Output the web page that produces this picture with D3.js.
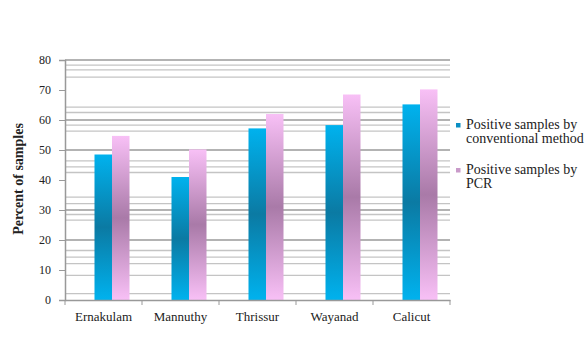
<!DOCTYPE html>
<html><head><meta charset="utf-8">
<script src="https://cdn.jsdelivr.net/npm/d3@7"></script>
<style>body{margin:0;background:#fff}svg{display:block}
svg text{font-family:"Liberation Serif","Times New Roman",Times,"DejaVu Serif",serif !important;}</style>
</head><body>
<svg id="c" width="585" height="337"></svg>
<script>
const categories = ["Ernakulam","Mannuthy","Thrissur","Wayanad","Calicut"];
const conventional = [48.5, 41, 57.2, 58.3, 65.2];
const pcr = [54.7, 50.2, 62, 68.5, 70.2];
const seriesNames = ["Positive samples by conventional method","Positive samples by PCR"];
const yTicks = [0,10,20,30,40,50,60,70,80];
const majorGrid = [80,60,50,30,20];
const minorGrid = [78.3,76.7,74.3,64.3,62.5,58.3,56.3,46.4,44.4,42.5,34.3,32.1,28.5,26.6,16.5,14.3,12.1,8.2,2.1];

const svg = d3.select("#c");
const L=65, R=450, T=60, B=300;
const x = d3.scaleBand().domain(categories).range([L,R]);
const y = d3.scaleLinear().domain([0,80]).range([B,T]);
const defs = svg.append("defs");
function grad(id, edge, mid){
  const g = defs.append("linearGradient").attr("id",id).attr("x1",0).attr("y1",0).attr("x2",0).attr("y2",1);
  g.append("stop").attr("offset","0%").attr("stop-color",edge);
  g.append("stop").attr("offset","50%").attr("stop-color",mid);
  g.append("stop").attr("offset","100%").attr("stop-color",edge);
}
grad("gb","#00b2ee","#0b7aa3");
grad("gp","#f8c0f6","#a97aa8");

// gridlines
svg.append("g").selectAll("line").data(minorGrid).join("line")
  .attr("x1",L).attr("x2",R).attr("y1",d=>y(d)).attr("y2",d=>y(d))
  .attr("stroke","#c4c4c4").attr("stroke-width",1.3);
svg.append("g").selectAll("line").data(majorGrid).join("line")
  .attr("x1",L).attr("x2",R).attr("y1",d=>y(d)).attr("y2",d=>y(d))
  .attr("stroke","#9a9a9a").attr("stroke-width",1.3);

// bars
const bw = 17.5, shift = 8.5;
const bars = svg.append("g");
bars.selectAll("rect.b").data(categories).join("rect").attr("class","b")
  .attr("x",d=>x(d)+x.bandwidth()/2+shift-bw).attr("width",bw)
  .attr("y",(d,i)=>y(conventional[i])).attr("height",(d,i)=>B-y(conventional[i]))
  .attr("fill","url(#gb)");
bars.selectAll("rect.p").data(categories).join("rect").attr("class","p")
  .attr("x",d=>x(d)+x.bandwidth()/2+shift).attr("width",bw)
  .attr("y",(d,i)=>y(pcr[i])).attr("height",(d,i)=>B-y(pcr[i]))
  .attr("fill","url(#gp)");

// y axis
const ya = svg.append("g").attr("transform",`translate(${L},0)`)
  .call(d3.axisLeft(y).tickValues(yTicks).tickSize(6).tickPadding(8));
ya.select(".domain").attr("stroke","#999").attr("stroke-width",1.5);
ya.selectAll(".tick line").attr("stroke","#999");
ya.selectAll("text").attr("font-size",12).attr("fill","#222");

// x axis
const xa = svg.append("g").attr("transform",`translate(0,${B})`)
  .call(d3.axisBottom(x).tickSize(0).tickPadding(12));
xa.select(".domain").attr("stroke","#999").attr("stroke-width",1.5);
xa.selectAll("text").attr("font-size",13).attr("fill","#222");
svg.append("g").selectAll("line").data(d3.range(categories.length+1)).join("line")
  .attr("x1",i=>L+i*x.step()).attr("x2",i=>L+i*x.step()).attr("y1",B).attr("y2",B+5)
  .attr("stroke","#999");

// y label
svg.append("text").attr("transform","translate(23,179) rotate(-90)").attr("text-anchor","middle")
  .attr("font-weight","bold").attr("font-size",14).attr("fill","#222")
  .text("Percent of samples");

// legend
const lg = svg.append("g").attr("font-size",14).attr("fill","#222");
const legendItems = [
  {lines:["Positive samples by","conventional method"], color:"#0a8fc4", y:129},
  {lines:["Positive samples by","PCR"], color:"#c99ac9", y:174}
];
legendItems.forEach(it=>{
  lg.append("rect").attr("x",456).attr("y",it.y-6).attr("width",4.5).attr("height",4.5).attr("fill",it.color);
  const t = lg.append("text").attr("x",466).attr("y",it.y);
  it.lines.forEach((s,k)=>t.append("tspan").attr("x",466).attr("dy",k?14:0).text(s));
});
</script>
</body></html>
